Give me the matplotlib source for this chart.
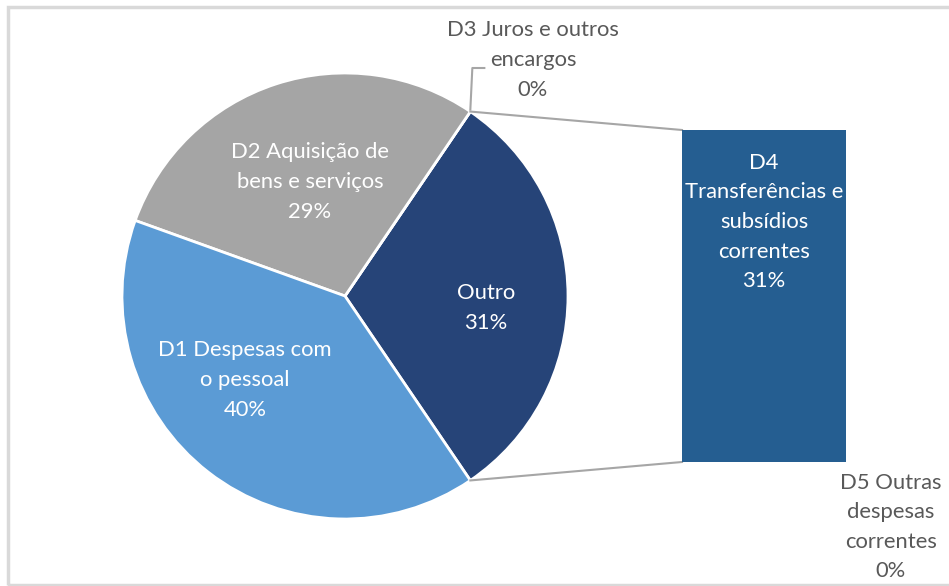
import numpy as np
import matplotlib.pyplot as plt
from matplotlib.patches import Rectangle

plt.rcParams['font.family'] = ['Lato', 'DejaVu Sans']

# pie part (percent of total)
pie_labels = ['Outro', 'D3 Juros e outros\nencargos', 'D2 Aquisição de\nbens e serviços',
              'D1 Despesas com\no pessoal']
pie_values = [31, 0, 29, 40]
pie_colors = ['#264478', '#7F7F7F', '#A5A5A5', '#5B9BD5']

# bar part (breakdown of "Outro")
bar_labels = ['D4\nTransferências e\nsubsídios\ncorrentes', 'D5 Outras\ndespesas\ncorrentes']
bar_values = [31, 0]
bar_colors = ['#255E91', '#5B9BD5']

W, H = 949, 586
fig = plt.figure(figsize=(W / 100, H / 100), dpi=100)
ax = fig.add_axes([0, 0, 1, 1])

# chart frame
ax.add_patch(Rectangle((8, 1), 980, 578, fill=False, ec='#D9D9D9', lw=2.5))

cx, cy, r = 345, 290, 223
total = sum(pie_values)
start = -pie_values[0] / total * 360 / 2
wedges, _ = ax.pie(pie_values, colors=pie_colors, startangle=start, counterclock=True,
                   center=(cx, cy), radius=r, frame=True,
                   wedgeprops=dict(edgecolor='white', linewidth=2))
ax.set_xlim(0, W)
ax.set_ylim(0, H)
ax.set_aspect('equal')
ax.axis('off')

fs = 15.8
ls = 1.6
pct = [f'{v}%' for v in pie_values]
ax.text(486, H - 308, f'{pie_labels[0]}\n{pct[0]}', color='white', fontsize=fs,
        ha='center', va='center', linespacing=ls)
ax.text(310, H - 182, f'{pie_labels[2]}\n{pct[2]}', color='white', fontsize=fs,
        ha='center', va='center', linespacing=ls)
ax.text(245, H - 380, f'{pie_labels[3]}\n{pct[3]}', color='white', fontsize=fs,
        ha='center', va='center', linespacing=ls)
ax.text(533, H - 60, f'{pie_labels[1]}\n{pct[1]}', color='#595959', fontsize=fs,
        ha='center', va='center', linespacing=ls)

# edge points of the "Outro" wedge
a1 = np.deg2rad(start + pie_values[0] / total * 360)
a0 = np.deg2rad(start)
p_top = (cx + r * np.cos(a1), cy + r * np.sin(a1))
p_bot = (cx + r * np.cos(a0), cy + r * np.sin(a0))

# D3 leader line
ax.plot([p_top[0], p_top[0] + 2, p_top[0] + 14], [p_top[1] + 2, H - 68, H - 68],
        color='#A6A6A6', lw=1.5)

# bar of pie
bx0, bx1, by0, by1 = 682, 846, H - 462, H - 130
bax = fig.add_axes([bx0 / W, by0 / H, (bx1 - bx0) / W, (by1 - by0) / H])
bottoms = np.cumsum([0] + bar_values[:-1])
bax.bar([0] * len(bar_values), bar_values, bottom=bottoms, width=1, color=bar_colors)
bax.set_xlim(-0.5, 0.5)
bax.set_ylim(0, sum(bar_values))
bax.axis('off')

ax.plot([p_top[0], bx0], [p_top[1], by1], color='#A6A6A6', lw=1.5)
ax.plot([p_bot[0], bx0], [p_bot[1], by0], color='#A6A6A6', lw=1.5)

bax.text((bx0 + bx1) / 2, H - 222, f'{bar_labels[0]}\n{bar_values[0]}%', color='white',
         fontsize=fs, ha='center', va='center', linespacing=ls,
         transform=ax.transData, clip_on=False)
ax.text(891, H - 527, f'{bar_labels[1]}\n{bar_values[1]}%', color='#595959',
        fontsize=fs, ha='center', va='center', linespacing=ls)

fig.savefig('out.png', dpi=100)
